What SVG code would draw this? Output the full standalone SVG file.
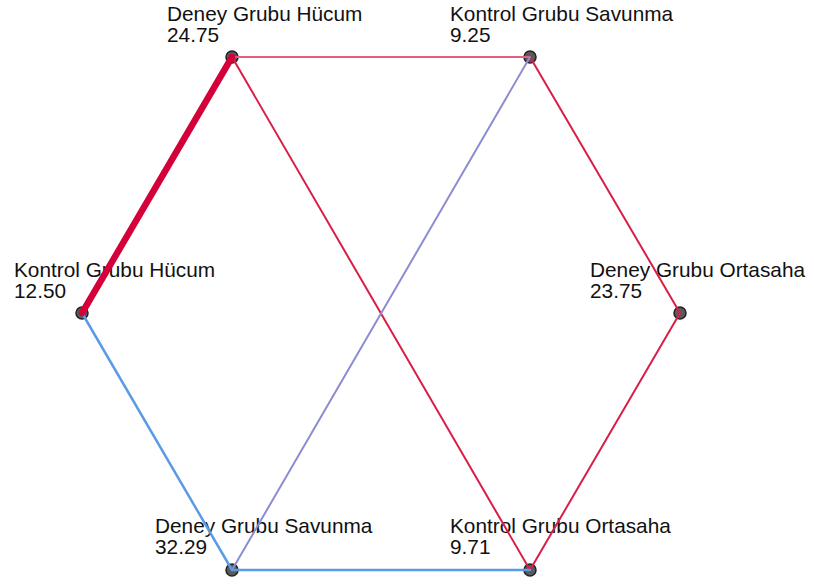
<svg xmlns="http://www.w3.org/2000/svg" width="814" height="586" viewBox="0 0 814 586">
<style>
text{font-family:"Liberation Sans",Arial,sans-serif;font-size:20.8px;fill:#111}
.n{fill:#5a5a5a;stroke:#222;stroke-width:1.5}
.e{fill:none;stroke-linecap:round}
.red{stroke:#d91e48;stroke-width:2}
.pink{stroke:#e4607c;stroke-width:2}
.thick{stroke:#d4003a;stroke-width:6.5}
.blue{stroke:#5b9be6;stroke-width:2.5}
.purple{stroke:#8c8cd2;stroke-width:2}
</style>
<rect width="814" height="586" fill="#fff"/>
<g id="nodes">
<g id="deney-hucum"><circle class="n" cx="232" cy="57" r="6"/><text x="167" y="21">Deney Grubu Hücum</text><text x="167" y="42">24.75</text></g>
<g id="kontrol-savunma"><circle class="n" cx="530" cy="57" r="6"/><text x="450" y="21">Kontrol Grubu Savunma</text><text x="450" y="42">9.25</text></g>
<g id="deney-ortasaha"><circle class="n" cx="680" cy="313" r="6"/><text x="590" y="277">Deney Grubu Ortasaha</text><text x="590" y="298">23.75</text></g>
<g id="kontrol-ortasaha"><circle class="n" cx="530" cy="570" r="6"/><text x="450" y="533">Kontrol Grubu Ortasaha</text><text x="450" y="554">9.71</text></g>
<g id="deney-savunma"><circle class="n" cx="232" cy="570" r="6"/><text x="155" y="533">Deney Grubu Savunma</text><text x="155" y="554">32.29</text></g>
<g id="kontrol-hucum"><circle class="n" cx="82" cy="313" r="6"/><text x="14" y="277">Kontrol Grubu Hücum</text><text x="14" y="298">12.50</text></g>
</g>
<g id="connectors">
<line class="e pink" x1="232" y1="57" x2="530" y2="57"/>
<line class="e red" x1="232" y1="57" x2="530" y2="570"/>
<line class="e red" x1="530" y1="57" x2="680" y2="313"/>
<line class="e red" x1="680" y1="313" x2="530" y2="570"/>
<line class="e purple" x1="530" y1="57" x2="232" y2="570"/>
<line class="e blue" x1="82" y1="313" x2="232" y2="570"/>
<line class="e blue" x1="232" y1="570" x2="530" y2="570"/>
<line class="e thick" x1="232" y1="57" x2="82" y2="313"/>
</g>
</svg>
